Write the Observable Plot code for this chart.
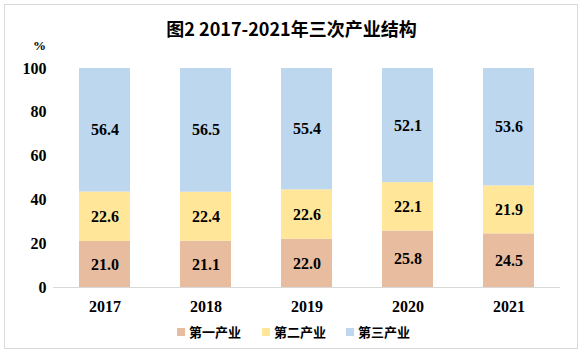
<!DOCTYPE html>
<html>
<head>
<meta charset="utf-8">
<script src="https://cdn.jsdelivr.net/npm/d3@7"></script>
<script src="https://cdn.jsdelivr.net/npm/@observablehq/plot@0.6"></script>
<style>
  html, body { margin: 0; padding: 0; background: #fff; }
  #wrap { position: relative; width: 583px; height: 355px; overflow: hidden; background: #fff; }
  #frame { position: absolute; left: 4px; top: 4px; width: 572px; height: 343px; border: 1px solid #D9D9D9; box-sizing: content-box; }
  #title { position: absolute; left: 0; top: 16px; width: 583px; text-align: center;
    font-family: "Noto Sans CJK SC", sans-serif; font-weight: bold; font-size: 18px; color: #000; line-height: 24px; }
  #unit { position: absolute; left: 33px; top: 38px; font-family: "Liberation Serif", serif; font-weight: bold; font-size: 13px; color: #000; }
  #chart { position: absolute; left: 0; top: 40px; }
  #legend { position: absolute; top: 323px; left: 0; width: 583px; height: 18px;
    font-family: "Noto Sans CJK SC", sans-serif; font-weight: bold; font-size: 13px; color: #000; }
  .item { position: absolute; top: 0; line-height: 18px; white-space: nowrap; }
  .sw { position: absolute; top: 5px; width: 8px; height: 8px; }
</style>
</head>
<body>
<div id="wrap">
  <div id="frame"></div>
  <div id="title"></div>
  <div id="unit">%</div>
  <div id="chart"></div>
  <div id="legend"></div>
</div>
<script>
const title = "图2 2017-2021年三次产业结构";
const years = ["2017", "2018", "2019", "2020", "2021"];
const seriesNames = ["第一产业", "第二产业", "第三产业"];
const primary = [21.0, 21.1, 22.0, 25.8, 24.5];
const secondary = [22.6, 22.4, 22.6, 22.1, 21.9];
const tertiary = [56.4, 56.5, 55.4, 52.1, 53.6];
const colors = ["#E8BC9F", "#FFE699", "#BDD7EE"];
const yTicks = [0, 20, 40, 60, 80, 100];

const seriesValues = [primary, secondary, tertiary];
const data = [];
seriesNames.forEach((s, si) => {
  years.forEach((y, yi) => data.push({year: y, series: s, value: seriesValues[si][yi]}));
});

document.getElementById("title").textContent = title;

const numFont = "Liberation Serif, Times New Roman, serif";

const plot = Plot.plot({
  width: 583,
  height: 280,
  marginLeft: 53,
  marginRight: 23,
  marginTop: 28,
  marginBottom: 33,
  style: {fontFamily: numFont, fontSize: "16px", fontWeight: "bold", color: "#000", background: "transparent"},
  x: {domain: years, paddingInner: 0.5, paddingOuter: 0.25, label: null},
  y: {domain: [0, 100], label: null},
  color: {domain: seriesNames, range: colors},
  marks: [
    Plot.barY(data, Plot.stackY({x: "year", y: "value", z: "series", fill: "series", order: seriesNames})),
    Plot.text(data, Plot.stackY({x: "year", y: "value", z: "series", text: d => d.value.toFixed(1), order: seriesNames,
      fill: "#000", fontSize: 16, fontWeight: "bold", fontFamily: numFont})),
    Plot.ruleY([0], {stroke: "#D9D9D9", strokeWidth: 1}),
    Plot.axisY({ticks: yTicks, tickSize: 0, tickPadding: 7, tickFormat: d => String(d), fontSize: 16, fontWeight: "bold"}),
    Plot.axisX({tickSize: 0, tickPadding: 13, fontSize: 16, fontWeight: "bold"})
  ]
});
document.getElementById("chart").appendChild(plot);

const legend = document.getElementById("legend");
const lefts = [177, 262, 346];
seriesNames.forEach((s, i) => {
  const sw = document.createElement("div");
  sw.className = "sw";
  sw.style.left = lefts[i] + "px";
  sw.style.background = colors[i];
  legend.appendChild(sw);
  const t = document.createElement("div");
  t.className = "item";
  t.style.left = (lefts[i] + 12) + "px";
  t.textContent = s;
  legend.appendChild(t);
});
</script>
</body>
</html>
